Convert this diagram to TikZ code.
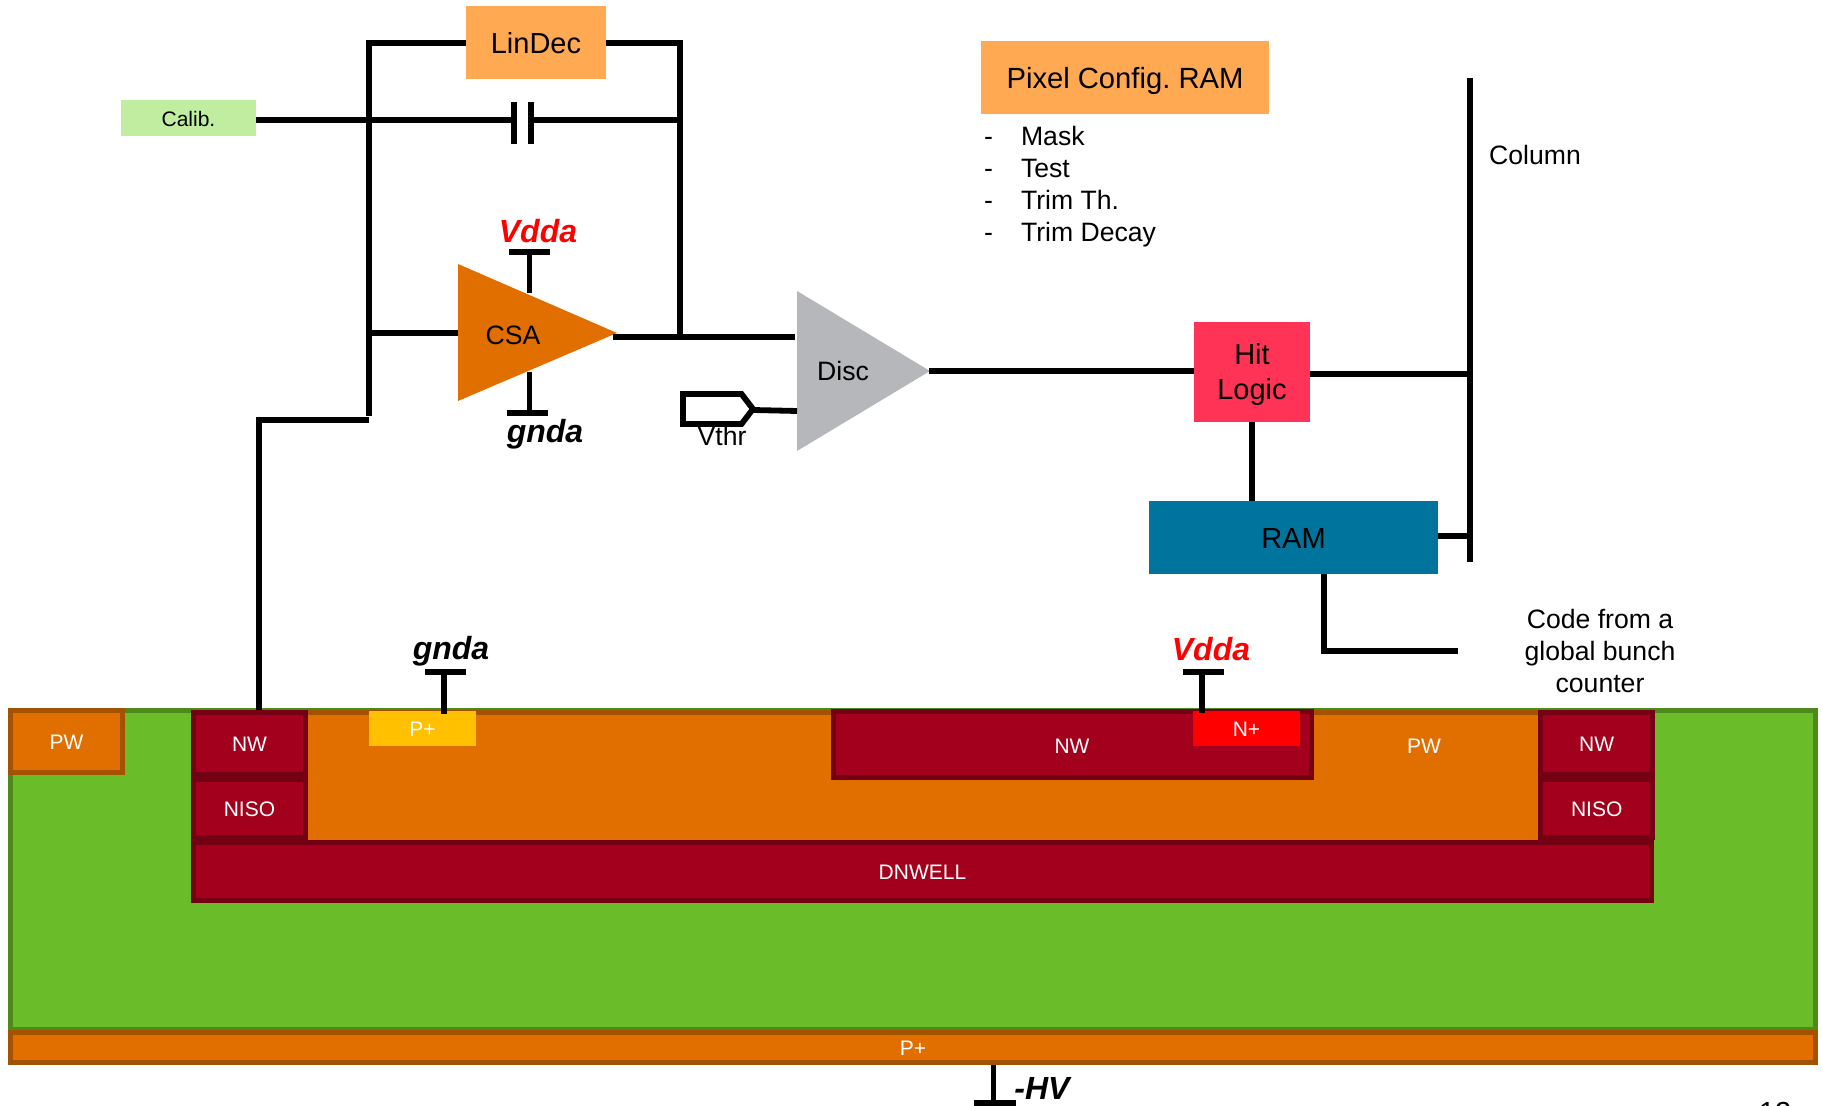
\documentclass[tikz,border=0pt]{standalone}
\usepackage{fontspec}
\setmainfont{Liberation Sans}
\frenchspacing
\definecolor{SubGreen}{HTML}{6ABD28}
\definecolor{SubEdge}{HTML}{4D8A1B}
\definecolor{WellOrange}{HTML}{E06F00}
\definecolor{WellEdge}{HTML}{A35200}
\definecolor{DeepRed}{HTML}{A2001D}
\definecolor{DeepEdge}{HTML}{740014}
\definecolor{BoxOrange}{HTML}{FFA953}
\definecolor{CalibGreen}{HTML}{C1EDA0}
\definecolor{HitPink}{HTML}{FF3355}
\definecolor{RamBlue}{HTML}{00749C}
\definecolor{DiscGray}{HTML}{B6B7BA}
\definecolor{PlusYellow}{HTML}{FFC000}
\tikzset{
  wire/.style={line width=2.9pt},
  block/.style={inner sep=0pt,align=center,font=\fontsize{14.5}{17.5}\selectfont},
  oneline/.style={text height=11.4pt,text depth=0pt},
  layer/.style={inner sep=0pt,line width=2.5pt,text=white,text height=8.2pt,text depth=0pt,font=\fontsize{10.5}{12}\selectfont},
  rail/.style={font=\fontsize{16}{18}\selectfont\bfseries\itshape},
  note/.style={font=\fontsize{13.3}{16}\selectfont,align=center}
}
\begin{document}
\begin{tikzpicture}[x=0.5pt,y=-0.5pt]
  \clip (0,0) rectangle (1822,1106);
  \fill[white] (0,0) rectangle (1822,1106);
  % substrate
  \node[layer,draw=SubEdge,fill=SubGreen,minimum width=902.5pt,minimum height=159.5pt] (sub) at (913,870) {};
  \node[layer,draw=WellEdge,fill=WellOrange,minimum width=902.5pt,minimum height=15pt] (pplus) at (913,1047.5) {P+};
  \fill[WellOrange] (308,712) rectangle (1540,842);
  \draw[WellEdge,line width=2.5pt] (308,713) -- (1540,713);
  \node[layer,draw=WellEdge,fill=WellOrange,minimum width=56pt,minimum height=31pt] (pwleft) at (66.5,741.5) {PW};
  \node[layer] (pwright) at (1424,745) {PW};
  \node[layer,draw=DeepEdge,fill=DeepRed,minimum width=729pt,minimum height=29pt] (dnwell) at (922.5,871.5) {DNWELL};
  \node[layer,draw=DeepEdge,fill=DeepRed,minimum width=56pt,minimum height=31pt] (nwa) at (249.5,743.5) {NW};
  \node[layer,draw=DeepEdge,fill=DeepRed,minimum width=56pt,minimum height=29pt] (nisoa) at (249.5,808.5) {NISO};
  \node[layer,draw=DeepEdge,fill=DeepRed,minimum width=56pt,minimum height=31pt] (nwb) at (1596.7,743.5) {NW};
  \node[layer,draw=DeepEdge,fill=DeepRed,minimum width=56pt,minimum height=29pt] (nisob) at (1596.7,808.5) {NISO};
  \node[layer,draw=DeepEdge,fill=DeepRed,minimum width=239pt,minimum height=33pt] (nwc) at (1072,745) {NW};
  \node[layer,fill=PlusYellow,minimum width=53.5pt,minimum height=17.5pt] (pcontact) at (422.5,728.5) {P+};
  \node[layer,fill=red,minimum width=53.5pt,minimum height=17.5pt] (ncontact) at (1246.5,728.5) {N+};
  % blocks
  \node[block,oneline,fill=BoxOrange,minimum width=70pt,minimum height=36.5pt] (lindec) at (536,42.5) {LinDec};
  \node[block,fill=CalibGreen,minimum width=67.5pt,minimum height=18pt,text height=8.5pt,text depth=0pt,font=\fontsize{10.5}{12}\selectfont] (calib) at (188.5,118) {Calib.};
  \node[block,fill=BoxOrange,text height=10.4pt,text depth=0pt,minimum width=144pt,minimum height=36.5pt,font=\fontsize{14.6}{17.5}\selectfont] (config) at (1125,78) {Pixel Config. RAM};
  \node[block,fill=HitPink,minimum width=58pt,minimum height=50pt] (hit) at (1252,372) {};
  \node[block] (hitlabel) at (1252,375) {Hit\\Logic};
  \node[block,oneline,fill=RamBlue,minimum width=144.5pt,minimum height=36.5pt] (ram) at (1293.5,537.5) {RAM};
  % amplifiers
  \fill[WellOrange] (458,264) -- (617,333) -- (458,401) -- cycle;
  \fill[DiscGray] (797,291) -- (930,371) -- (797,451) -- cycle;
  \node[note] (csa) at (513,335) {CSA};
  \node[note] (disc) at (843,371) {Disc};
  % junctions
  \coordinate (calibin) at (369,120);
  \coordinate (loopa) at (369,43);
  \coordinate (loopb) at (680,43);
  \coordinate (capa) at (514,120);
  \coordinate (capb) at (531,120);
  \coordinate (capc) at (680,120);
  \coordinate (csain) at (369,333);
  \coordinate (csaout) at (613,337);
  \coordinate (discin) at (795,337);
  \coordinate (loopc) at (680,337);
  \coordinate (feedb) at (369,416);
  \coordinate (feedc) at (369,420);
  \coordinate (feedd) at (259,420);
  \coordinate (coltop) at (1470,78);
  \coordinate (colbot) at (1470,562);
  \coordinate (codea) at (1324,651);
  \coordinate (codeb) at (1458,651);
  % wires
  \draw[wire] (loopa) -- (lindec.west |- loopa);
  \draw[wire] (lindec.east |- loopb) -- (loopb);
  \draw[wire] (369,40) -- (feedb);
  \draw[wire] (680,40) -- (loopc);
  \draw[wire] (calib.east |- calibin) -- (calibin) -- (capa);
  \draw[wire] (capb) -- (capc);
  \draw[wire] (514,102) -- (514,144);
  \draw[wire] (531,102) -- (531,144);
  \draw[wire] (csain) -- (458,333);
  \draw[wire] (csaout) -- (discin);
  \draw[wire] (feedc) -- (feedd) -- (nwa.north -| feedd);
  \draw[wire] (929,371) -- (hit.west |- 0,371);
  \draw[wire] (hit.east |- 0,374) -- (1470,374);
  \draw[wire] (coltop) -- (colbot);
  \draw[wire] (hit.south) -- (ram.north -| hit.south);
  \draw[wire] (ram.east |- 0,536) -- (1470,536);
  \draw[wire] (ram.south -| codea) -- (codea) -- (codeb);
  % supplies
  \draw[wire] (529.5,252) -- (529.5,293);
  \draw[wire] (509,252) -- (550,252);
  \draw[wire] (529.5,372) -- (529.5,413);
  \draw[wire] (507,413) -- (548,413);
  \draw[wire] (444,672) -- (444,714);
  \draw[wire] (425,672) -- (466,672);
  \draw[wire] (1202,672) -- (1202,713);
  \draw[wire] (1183,672) -- (1224,672);
  \draw[wire] (993.5,1065) -- (993.5,1103);
  \draw[wire] (974,1103) -- (1016,1103);
  % threshold tag
  \draw[wire,fill=white] (683,394) -- (741.5,394) -- (753,409) -- (741.5,424) -- (683,424) -- cycle;
  \draw[wire] (753,410) -- (797,411);
  % labels
  \node[rail,text=red] (vddaa) at (538,231) {Vdda};
  \node[rail] (gndaa) at (545,434) {gnda};
  \node[rail] (gndab) at (451,651.5) {gnda};
  \node[rail,text=red] (vddab) at (1211,649) {Vdda};
  \node[rail] (hv) at (1042,1088) {-HV};
  \node[note] (vthr) at (722,436) {Vthr};
  \node[note] (column) at (1535,155) {Column};
  \node[note] (code) at (1600,651) {Code from a\\global bunch\\counter};
  \foreach \name/\ypos/\txt in {mask/146/Mask,test/178/Test,trimth/210/Trim Th.,trimdecay/242/Trim Decay}{
    \node[note,anchor=base west] (\name) at (1014,\ypos) {\txt};
    \node[note,anchor=base west] (dash\name) at (977,\ypos) {-};
  }
  \node[block] (pagenum) at (1775,1112) {12};
\end{tikzpicture}
\end{document}
